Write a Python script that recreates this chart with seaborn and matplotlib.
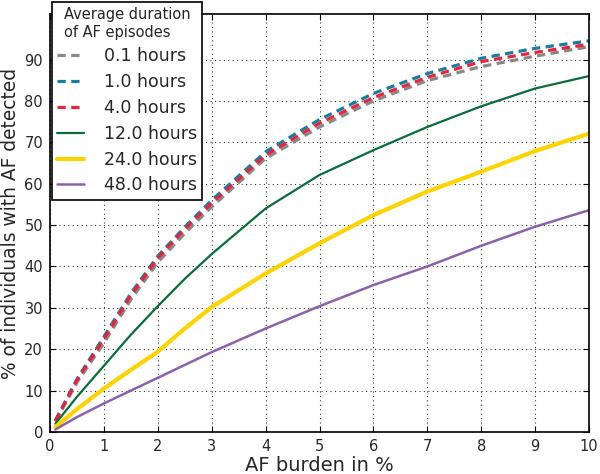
import matplotlib
matplotlib.use("Agg")
import matplotlib.pyplot as plt
import seaborn as sns
import pandas as pd

# AF burden (%) sample points
burden = [0.1, 0.5, 1, 1.5, 2, 2.5, 3, 4, 5, 6, 7, 8, 9, 10]

# % detected per average episode duration
dur_0_1 = [2.5, 12.0, 21.5, 32.0, 41.0, 48.0, 54.4, 66.1, 73.7, 80.0, 84.9, 88.3, 90.8, 93.1]
dur_1_0 = [2.8, 12.8, 23.0, 33.5, 42.5, 49.5, 56.0, 67.7, 75.5, 81.8, 86.6, 90.3, 92.7, 94.5]
dur_4_0 = [2.7, 12.5, 22.5, 33.0, 42.0, 49.0, 55.3, 66.9, 74.6, 80.8, 85.7, 89.5, 91.7, 93.7]
dur_12_0 = [2.0, 8.5, 16.0, 23.5, 30.4, 37.0, 43.0, 54.0, 62.1, 68.1, 73.7, 78.7, 83.0, 86.0]
dur_24_0 = [1.2, 5.5, 10.5, 15.0, 19.4, 25.0, 30.2, 38.3, 45.6, 52.4, 58.1, 62.9, 67.9, 72.1]
dur_48_0 = [0.6, 3.6, 6.9, 10.0, 13.1, 16.2, 19.3, 25.0, 30.4, 35.5, 40.0, 45.0, 49.6, 53.6]

labels = ["0.1 hours", "1.0 hours", "4.0 hours", "12.0 hours", "24.0 hours", "48.0 hours"]
series = [dur_0_1, dur_1_0, dur_4_0, dur_12_0, dur_24_0, dur_48_0]

colors = ["#888888", "#1a7d9e", "#e2263d", "#0b6b3a", "#ffd300", "#8a62a8"]
widths = [2.3, 2.3, 2.3, 1.6, 3.0, 1.8]
dashed = [True, True, True, False, False, False]

sns.set_style("ticks")
plt.rcParams['font.family'] = ['DejaVu Sans']

fig = plt.figure(figsize=(6.0, 4.74), dpi=100)
ax = fig.add_axes([50 / 600, 1 - 432 / 474, 539 / 600, 418 / 474])

for lab, vals, c, w, d in zip(labels, series, colors, widths, dashed):
    df = pd.DataFrame({"burden": burden, "pct": vals})
    sns.lineplot(data=df, x="burden", y="pct", ax=ax, color=c, lw=w, label=lab)
    line = ax.lines[-1]
    if d:
        line.set_dashes((2.6, 1.7))

ax.set_xlim(0, 10)
ax.set_ylim(0, 101)
ax.set_xticks(range(0, 11))
ax.set_yticks(range(0, 100, 10))
ax.grid(True, color="#333333", linestyle=(0, (1, 3)), linewidth=0.8)
ax.tick_params(direction="in", top=True, right=True, labelsize=10.5, length=4.5,
               width=0.8, color="black", pad=5)
for s in ax.spines.values():
    s.set_color("black")
    s.set_linewidth(1.2)

ax.set_xlabel("AF burden in %", fontsize=14, labelpad=1.5)
ax.set_ylabel("% of individuals with AF detected", fontsize=13.4, labelpad=3)

leg = ax.legend(title="Average duration\nof AF episodes", loc="upper left",
                bbox_to_anchor=(52 / 600, 1 - 2 / 474), bbox_transform=fig.transFigure,
                fontsize=12.5, title_fontsize=10.5, frameon=True, fancybox=False,
                handlelength=1.55, handletextpad=1.15, borderpad=0.3,
                labelspacing=0.45, borderaxespad=0)
leg.get_frame().set_edgecolor("black")
leg.get_frame().set_linewidth(1.2)
leg.get_frame().set_alpha(1.0)
leg._legend_box.align = "center"
leg.set_zorder(10)

fig.savefig("out.png", dpi=100)
